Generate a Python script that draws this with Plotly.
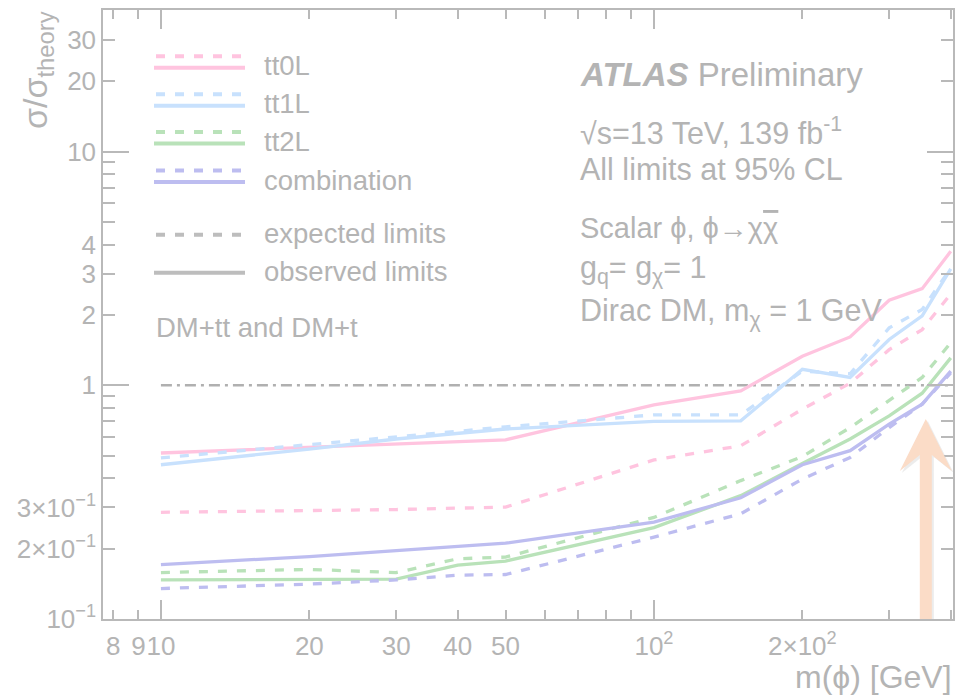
import math
import plotly.graph_objects as go

# ---------------- data ----------------
mass = [10, 20, 30, 40, 50, 100, 150, 200, 250, 300, 350, 400]

tt0L_obs = [0.513, 0.542, 0.562, 0.575, 0.584, 0.824, 0.946, 1.33, 1.61, 2.31, 2.59, 3.74]
tt0L_exp = [0.286, 0.290, 0.294, 0.298, 0.301, 0.479, 0.551, 0.79, 1.02, 1.42, 1.73, 2.46]
tt1L_obs = [0.457, 0.533, 0.589, 0.622, 0.650, 0.700, 0.704, 1.17, 1.08, 1.57, 1.98, 3.15]
tt1L_exp = [0.489, 0.555, 0.600, 0.635, 0.664, 0.747, 0.747, 1.15, 1.12, 1.76, 2.11, 3.17]
tt2L_obs = [0.147, 0.147, 0.148, 0.170, 0.177, 0.246, 0.337, 0.463, 0.589, 0.740, 0.925, 1.31]
tt2L_exp = [0.158, 0.163, 0.158, 0.181, 0.184, 0.272, 0.391, 0.495, 0.659, 0.857, 1.08, 1.52]
comb_obs = [0.171, 0.185, 0.196, 0.205, 0.211, 0.260, 0.330, 0.457, 0.525, 0.682, 0.830, 1.15]
comb_exp = [0.135, 0.141, 0.147, 0.154, 0.155, 0.224, 0.282, 0.397, 0.491, 0.659, 0.830, 1.13]

ref_x = [10, 400]
ref_y = [1, 1]
arrow_mass = 356

series_names = ["tt0L", "tt1L", "tt2L", "combination"]
series_colors = ["#ffc4df", "#c8e1fd", "#b9e2b9", "#bdbdf0"]
series_obs = [tt0L_obs, tt1L_obs, tt2L_obs, comb_obs]
series_exp = [tt0L_exp, tt1L_exp, tt2L_exp, comb_exp]

x_tickvals = [8, 9, 10, 20, 30, 40, 50, 100, 200]
x_ticktext = ["8", "9", "10", "20", "30", "40", "50", "10<sup>2</sup>", "2×10<sup>2</sup>"]
x_minor = [60, 70, 80, 90, 300, 400]
x_major = [10, 100]
y_tickvals = [0.1, 0.2, 0.3, 1, 2, 3, 4, 10, 20, 30]
y_ticktext = ["10<sup>−1</sup>", "2×10<sup>−1</sup>", "3×10<sup>−1</sup>", "1", "2", "3", "4", "10", "20", "30"]
y_minor = [0.4, 0.5, 0.6, 0.7, 0.8, 0.9, 5, 6, 7, 8, 9]
y_major = [0.1, 1, 10]

# ---------------- layout helpers ----------------
W, H = 965, 695
L, R, T, B = 103, 953, 8, 619
GREY = "#b9b9b9"
TXT = "#b4b4b4"
FONT = "Liberation Sans, Arial, Helvetica, sans-serif"


def px(x):
    return (x - L) / (R - L)


def py(y):
    return (B - y) / (B - T)


fig = go.Figure()

# reference line at 1
fig.add_trace(go.Scatter(x=ref_x, y=ref_y, mode="lines",
                         line=dict(color="#b0b0b0", width=2.5, dash="11px,5px,3px,5px"),
                         showlegend=False, hoverinfo="skip"))

for name, col, obs, exp in zip(series_names, series_colors, series_obs, series_exp):
    fig.add_trace(go.Scatter(x=mass, y=exp, mode="lines", name=name + " exp",
                             line=dict(color=col, width=3.3, dash="9px,10px"),
                             showlegend=False))
    fig.add_trace(go.Scatter(x=mass, y=obs, mode="lines", name=name + " obs",
                             line=dict(color=col, width=3.3),
                             showlegend=False))

# dummy trace for overlay axes (long decade ticks)
fig.add_trace(go.Scatter(x=[10], y=[1], xaxis="x2", yaxis="y2", mode="markers",
                         marker=dict(opacity=0), showlegend=False, hoverinfo="skip"))

xr = [math.log10(7.63), math.log10(404.2)]
yr = [-1, 1.6055]

axis_common = dict(showgrid=False, zeroline=False, showline=True, linecolor=GREY,
                   linewidth=1.5, mirror="ticks", ticks="inside", tickcolor=GREY,
                   tickwidth=1.5)

fig.update_layout(
    width=W, height=H,
    margin=dict(l=L, r=W - R, t=T, b=H - B),
    paper_bgcolor="white", plot_bgcolor="white",
    font=dict(family=FONT, color=TXT),
    showlegend=False,
    xaxis=dict(type="log", range=xr, tickmode="array", tickvals=x_tickvals,
               ticktext=x_ticktext, ticklen=9, tickangle=0,
               tickfont=dict(size=26, color=TXT), ticklabelstandoff=3,
               minor=dict(tickmode="array", tickvals=x_minor, ticks="inside",
                          ticklen=9, tickcolor=GREY, tickwidth=1.5),
               **axis_common),
    yaxis=dict(type="log", range=yr, tickmode="array", tickvals=y_tickvals,
               ticktext=y_ticktext, ticklen=12, tickfont=dict(size=26, color=TXT),
               minor=dict(tickmode="array", tickvals=y_minor, ticks="inside",
                          ticklen=12, tickcolor=GREY, tickwidth=1.5),
               **axis_common),
    xaxis2=dict(type="log", range=xr, overlaying="x", anchor="y2", side="bottom",
                tickmode="array", tickvals=x_major, ticklen=19, showticklabels=False,
                **axis_common),
    yaxis2=dict(type="log", range=yr, overlaying="y", anchor="x2", side="left",
                tickmode="array", tickvals=y_major, ticklen=26, showticklabels=False,
                **axis_common),
)

shapes = []
# arrow (faint shadow + body)
shapes.append(dict(type="path", xref="x", yref="y", xsizemode="pixel", ysizemode="pixel",
                   xanchor=arrow_mass, yanchor=0.1,
                   path="M -4,-1 L -4,162 L -24,146 L 2,198 L 28,146 L 8,162 L 8,-1 Z",
                   fillcolor="rgba(200,200,200,0.35)", line=dict(width=0), layer="above"))
shapes.append(dict(type="path", xref="x", yref="y", xsizemode="pixel", ysizemode="pixel",
                   xanchor=arrow_mass, yanchor=0.1,
                   path="M -6,0 L -6,164 L -26,148 L 0,200 L 26,148 L 6,164 L 6,0 Z",
                   fillcolor="#fbdcc7", line=dict(width=0), layer="above"))

# legend glyphs
rows = [(54.5, 66), (92.5, 104), (130.5, 142), (169, 180.5)]
for (yd, ys), col in zip(rows, series_colors):
    shapes.append(dict(type="line", xref="paper", yref="paper", x0=px(156), x1=px(241),
                       y0=py(yd), y1=py(yd), line=dict(color=col, width=4, dash="9px,10px")))
    shapes.append(dict(type="line", xref="paper", yref="paper", x0=px(154), x1=px(245),
                       y0=py(ys), y1=py(ys), line=dict(color=col, width=4)))
shapes.append(dict(type="line", xref="paper", yref="paper", x0=px(156), x1=px(241),
                   y0=py(233.5), y1=py(233.5), line=dict(color="#bdbdbd", width=4, dash="9px,10px")))
shapes.append(dict(type="line", xref="paper", yref="paper", x0=px(154), x1=px(245),
                   y0=py(271.5), y1=py(271.5), line=dict(color="#bdbdbd", width=4)))
fig.update_layout(shapes=shapes)

ann = []


def text(s, x, y, size, xanchor="left", angle=0, yanchor="middle"):
    ann.append(dict(text=s, x=px(x), y=py(y), xref="paper", yref="paper",
                    xanchor=xanchor, yanchor=yanchor, showarrow=False, textangle=angle,
                    borderpad=0,
                    font=dict(size=size, color=TXT, family=FONT)))


leg_texts = ["tt0L", "tt1L", "tt2L", "combination", "expected limits", "observed limits"]
leg_y = [64, 102, 140, 179, 232, 270]
for s, y in zip(leg_texts, leg_y):
    text(s, 263, y, 27.5)
text("DM+tt and DM+t", 155, 327, 27.5)

text("<b><i>ATLAS</i></b> Preliminary", 579, 73, 33)
text("√s=13 TeV, 139 fb<sup>-1</sup>", 579, 129, 30.5)
text("All limits at 95% CL", 579, 168, 30.5)
text("Scalar ϕ, ϕ→χ<span style='text-decoration:overline'>χ</span>", 579, 227, 29)
text("g<sub>q</sub>= g<sub>χ</sub>= 1", 579, 268, 30.5)
text("Dirac DM, m<sub>χ</sub> = 1 GeV", 579, 311, 30.5)

text("m(ϕ) [GeV]", 953, 677, 32, xanchor="right")
text("σ/σ<sub>theory</sub>", 37, 8, 34, xanchor="center", angle=-90, yanchor="top")

fig.update_layout(annotations=ann)

fig.write_html("out.html")
